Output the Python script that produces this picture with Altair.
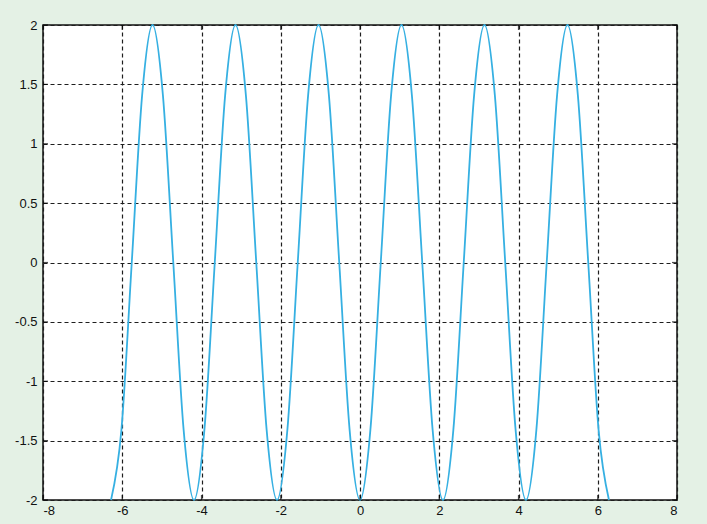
import altair as alt
import pandas as pd

# Samples of the wave, every pi/12 from -2*pi to 2*pi
x_vals = [-6.283, -6.021, -5.760, -5.498, -5.236, -4.974, -4.712, -4.451,
          -4.189, -3.927, -3.665, -3.403, -3.142, -2.880, -2.618, -2.356,
          -2.094, -1.833, -1.571, -1.309, -1.047, -0.785, -0.524, -0.262,
          0.000, 0.262, 0.524, 0.785, 1.047, 1.309, 1.571, 1.833,
          2.094, 2.356, 2.618, 2.880, 3.142, 3.403, 3.665, 3.927,
          4.189, 4.451, 4.712, 4.974, 5.236, 5.498, 5.760, 6.021, 6.283]
y_vals = [-2, -1.41, 0, 1.41, 2, 1.41, 0, -1.41,
          -2, -1.41, 0, 1.41, 2, 1.41, 0, -1.41,
          -2, -1.41, 0, 1.41, 2, 1.41, 0, -1.41,
          -2, -1.41, 0, 1.41, 2, 1.41, 0, -1.41,
          -2, -1.41, 0, 1.41, 2, 1.41, 0, -1.41,
          -2, -1.41, 0, 1.41, 2, 1.41, 0, -1.41,
          -2]

x_ticks = [-8, -6, -4, -2, 0, 2, 4, 6, 8]
y_ticks = [-2, -1.5, -1, -0.5, 0, 0.5, 1, 1.5, 2]

W, H = 634, 475

wave = pd.DataFrame({"x": x_vals, "y": y_vals})
xt = pd.DataFrame({"v": x_ticks})
yt = pd.DataFrame({"v": y_ticks})

xscale = alt.Scale(domain=[-8, 8], nice=False, zero=False)
yscale = alt.Scale(domain=[-2, 2], nice=False, zero=False)

label_expr = "datum.value + ''"
label_style = dict(labelFont="Liberation Sans", labelFontSize=13,
                   labelColor="#111111")

x_axis = alt.Axis(values=x_ticks, labelExpr=label_expr, grid=True,
                  gridDash=[4, 3], gridColor="#1e1e1e", gridOpacity=1,
                  gridWidth=1.2, ticks=False, domain=False, labelPadding=4,
                  title=None, **label_style)
y_axis = alt.Axis(values=y_ticks, labelExpr=label_expr, grid=True,
                  gridDash=[4, 3], gridColor="#1e1e1e", gridOpacity=1,
                  gridWidth=1.2, ticks=False, domain=False, labelPadding=6,
                  title=None, **label_style)

line = alt.Chart(wave).mark_line(
    interpolate="monotone", color="#36b0e2", strokeWidth=1.8
).encode(
    x=alt.X("x:Q", scale=xscale, axis=x_axis),
    y=alt.Y("y:Q", scale=yscale, axis=y_axis),
)

# Inward tick marks on all four sides of the box
tick_x_bottom = alt.Chart(xt).mark_tick(
    orient="vertical", size=5, thickness=1.2, color="black"
).encode(x=alt.X("v:Q", scale=xscale), y=alt.value(H - 2.5))
tick_x_top = alt.Chart(xt).mark_tick(
    orient="vertical", size=5, thickness=1.2, color="black"
).encode(x=alt.X("v:Q", scale=xscale), y=alt.value(2.5))
tick_y_left = alt.Chart(yt).mark_tick(
    orient="horizontal", size=5, thickness=1.2, color="black"
).encode(y=alt.Y("v:Q", scale=yscale), x=alt.value(2.5))
tick_y_right = alt.Chart(yt).mark_tick(
    orient="horizontal", size=5, thickness=1.2, color="black"
).encode(y=alt.Y("v:Q", scale=yscale), x=alt.value(W - 2.5))

chart = alt.layer(
    line, tick_x_bottom, tick_x_top, tick_y_left, tick_y_right
).properties(
    width=W, height=H,
    autosize=alt.AutoSizeParams(type="none"),
    padding={"left": 43, "top": 25, "right": 30, "bottom": 24},
    background="#e4f1e5",
).configure_view(
    fill="white", stroke="#111111", strokeWidth=1.5
)

chart.save("out.html", embed_options={"renderer": "svg", "actions": False})
